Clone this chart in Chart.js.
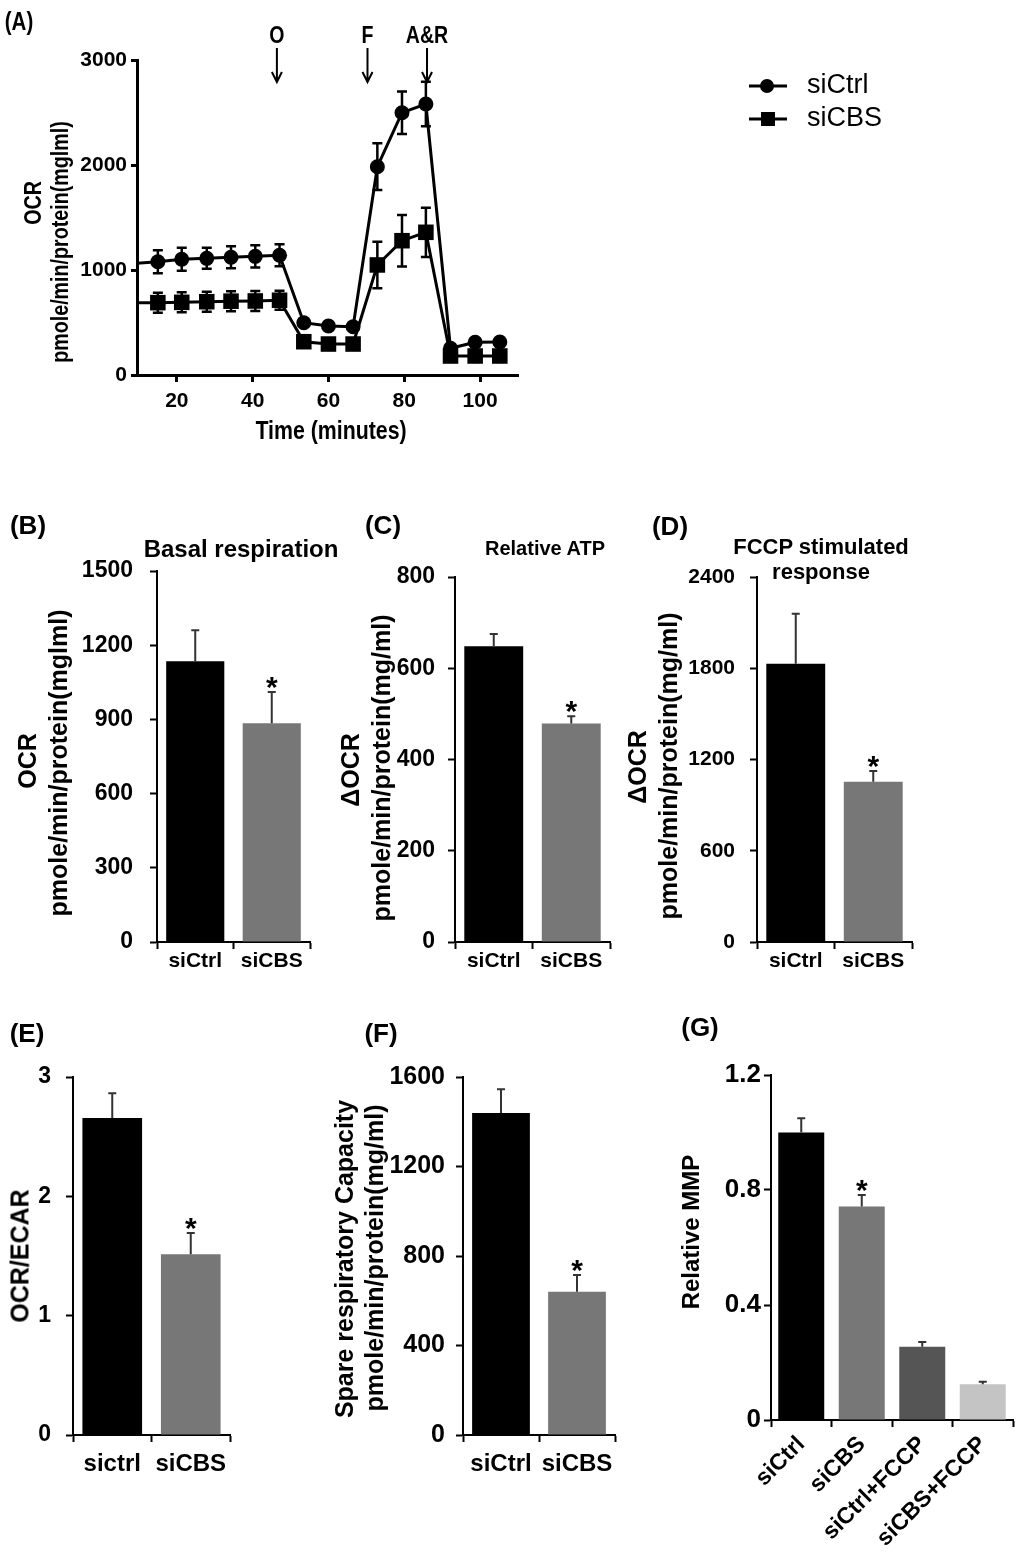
<!DOCTYPE html>
<html>
<head>
<meta charset="utf-8">
<script src="https://cdn.jsdelivr.net/npm/chart.js@4.4.1/dist/chart.umd.min.js"></script>
<style>
  html, body { margin: 0; padding: 0; background: #fff; }
  #page { position: relative; width: 1021px; height: 1568px; overflow: hidden;
          font-family: "Liberation Sans", Arial, sans-serif; font-weight: bold; color: #000; }
  canvas { position: absolute; }
  .t { position: absolute; white-space: nowrap; line-height: 1; transform: translate(-50%, -50%); }
  .v { transform: translate(-50%, -50%) rotate(-90deg); }
  /* panel A uses a condensed face in the original */
  .n  { transform: translate(-50%, -50%) scaleX(0.82); }
  .vn { transform: translate(-50%, -50%) rotate(-90deg) scaleX(0.82); }
</style>
</head>
<body>
<div id="page">
  <canvas id="cA" style="left:0;top:0" width="1021" height="470"></canvas>
  <canvas id="cB" style="left:0;top:490px" width="340" height="510"></canvas>
  <canvas id="cC" style="left:340px;top:490px" width="300" height="510"></canvas>
  <canvas id="cD" style="left:640px;top:490px" width="381" height="510"></canvas>
  <canvas id="cE" style="left:0;top:1000px" width="320" height="568"></canvas>
  <canvas id="cF" style="left:320px;top:1000px" width="320" height="568"></canvas>
  <canvas id="cG" style="left:640px;top:1000px" width="381" height="568"></canvas>

  <!-- panel letters, titles, axis titles -->
  <div class="t n" style="left:19px;top:21px;font-size:25px">(A)</div>
  <div class="t vn" style="left:33px;top:203px;font-size:24px">OCR</div>
  <div class="t vn" style="left:60px;top:242px;font-size:24px">pmole/min/protein(mglml)</div>
  <div class="t n" style="left:331px;top:430px;font-size:26px">Time (minutes)</div>

  <div class="t" style="left:28px;top:525px;font-size:26px">(B)</div>
  <div class="t" style="left:241px;top:549px;font-size:24px">Basal respiration</div>
  <div class="t v" style="left:27px;top:761px;font-size:25px">OCR</div>
  <div class="t v" style="left:58px;top:763px;font-size:25px">pmole/min/protein(mglml)</div>

  <div class="t" style="left:383px;top:525px;font-size:26px">(C)</div>
  <div class="t" style="left:545px;top:548px;font-size:20px">Relative ATP</div>
  <div class="t v" style="left:350px;top:770px;font-size:25px">ΔOCR</div>
  <div class="t v" style="left:381px;top:768px;font-size:25px">pmole/min/protein(mg/ml)</div>

  <div class="t" style="left:670px;top:526px;font-size:26px">(D)</div>
  <div class="t" style="left:821px;top:547px;font-size:22px">FCCP stimulated</div>
  <div class="t" style="left:821px;top:572px;font-size:22px">response</div>
  <div class="t v" style="left:637px;top:767px;font-size:25px">ΔOCR</div>
  <div class="t v" style="left:668px;top:766px;font-size:25px">pmole/min/protein(mg/ml)</div>

  <div class="t" style="left:27px;top:1033px;font-size:26px">(E)</div>
  <div class="t v" style="left:20px;top:1256px;font-size:25px">OCR/ECAR</div>

  <div class="t" style="left:381px;top:1033px;font-size:26px">(F)</div>
  <div class="t v" style="left:344px;top:1259px;font-size:25px">Spare respiratory Capacity</div>
  <div class="t v" style="left:374px;top:1258px;font-size:25px">pmole/min/protein(mg/ml)</div>

  <div class="t" style="left:700px;top:1027px;font-size:26px">(G)</div>
  <div class="t v" style="left:691px;top:1232px;font-size:24px">Relative MMP</div>
</div>

<script>
// ── DATA ──
// (A) OCR trace (Seahorse run), time in minutes
const traceTimes  = [2, 15, 21.3, 27.9, 34.3, 40.7, 47.1, 53.5, 60, 66.5, 72.9, 79.4, 85.7, 92.2, 98.7, 105.2];
const ocrCtrl     = [1045, 1079, 1102, 1111, 1121, 1130, 1140, 498, 467, 460, 1984, 2498, 2581, 254, 312, 314];
const ocrCtrlErr  = [0, 110, 110, 100, 105, 105, 105, 25, 20, 20, 222, 203, 211, 20, 20, 20];
const ocrCbs      = [688, 689, 692, 698, 703, 705, 712, 317, 295, 295, 1048, 1279, 1359, 181, 181, 181];
const ocrCbsErr   = [0, 95, 95, 95, 95, 95, 90, 20, 15, 15, 222, 245, 235, 15, 15, 15];
const traceXTicks = [20, 40, 60, 80, 100];
const traceYTicks = [0, 1000, 2000, 3000];
const injectLabels = ['O', 'F', 'A&R'];
const injectTimes  = [46.4, 70.3, 86];

// (B)-(F) two-group bars
const groups     = ['siCtrl', 'siCBS'];
const groupsE    = ['sictrl', 'siCBS'];
const basalVals  = [1135, 884];
const basalErr   = [125, 127];
const basalTicks = [0, 300, 600, 900, 1200, 1500];
const atpVals    = [648, 479];
const atpErr     = [27, 16];
const atpTicks   = [0, 200, 400, 600, 800];
const fccpVals   = [1829, 1054];
const fccpErr    = [330, 70];
const fccpTicks  = [0, 600, 1200, 1800, 2400];
const ratioVals  = [2.657, 1.515];
const ratioErr   = [0.206, 0.177];
const ratioTicks = [0, 1, 2, 3];
const spareVals  = [1439, 640];
const spareErr   = [106, 75];
const spareTicks = [0, 400, 800, 1200, 1600];
const starsTwo   = [false, true];

// (G) membrane potential
const mmpGroups = ['siCtrl', 'siCBS', 'siCtrl+FCCP', 'siCBS+FCCP'];
const mmpVals   = [1.0, 0.743, 0.255, 0.124];
const mmpErr    = [0.05, 0.04, 0.016, 0.009];
const mmpTicks  = [0, 0.4, 0.8, 1.2];
const mmpStars  = [false, true, false, false];

// ── STYLE ──
const FONT = '"Liberation Sans", Arial, sans-serif';
const twoColors = ['#000000', '#777777'];
const mmpColors = ['#000000', '#777777', '#555555', '#c4c4c4'];

Chart.defaults.color = '#000';
Chart.defaults.animation = false;

// error bars + significance stars, drawn from the y scale
const errorBarPlugin = {
  id: 'errorBars',
  afterDatasetsDraw(chart, args, opts) {
    const ctx = chart.ctx;
    const y = chart.scales.y;
    chart.data.datasets.forEach((ds, di) => {
      if (!ds.errors) return;
      chart.getDatasetMeta(di).data.forEach((el, i) => {
        const raw = ds.data[i];
        const v = typeof raw === 'object' ? raw.y : raw;
        const err = ds.errors[i];
        const top = y.getPixelForValue(v + err);
        ctx.save();
        if (err) {
          const bot = opts.both ? y.getPixelForValue(v - err) : el.y;
          ctx.strokeStyle = opts.color;
          ctx.lineWidth = opts.width;
          ctx.beginPath();
          ctx.moveTo(el.x, bot); ctx.lineTo(el.x, top);
          ctx.moveTo(el.x - opts.cap, top); ctx.lineTo(el.x + opts.cap, top);
          if (opts.both) { ctx.moveTo(el.x - opts.cap, bot); ctx.lineTo(el.x + opts.cap, bot); }
          ctx.stroke();
        }
        if (opts.stars && opts.stars[i]) {
          ctx.fillStyle = '#000';
          ctx.font = 'bold 30px ' + FONT;
          ctx.textAlign = 'center';
          ctx.textBaseline = 'alphabetic';
          ctx.fillText('*', el.x, top + 5);
        }
        ctx.restore();
      });
    });
  }
};

// injection arrows and legend for the trace
const tracePlugin = {
  id: 'traceMarks',
  afterDraw(chart) {
    const { ctx, chartArea } = chart;
    const x = chart.scales.x;
    ctx.save();
    ctx.strokeStyle = '#000';
    ctx.fillStyle = '#000';
    ctx.lineWidth = 2;
    ctx.textBaseline = 'middle';
    injectTimes.forEach((t, i) => {
      const px = x.getPixelForValue(t);
      const y0 = chartArea.top - 12, y1 = chartArea.top + 22;
      ctx.beginPath();
      ctx.moveTo(px, y0); ctx.lineTo(px, y1);
      ctx.moveTo(px - 5, y1 - 10); ctx.lineTo(px, y1); ctx.lineTo(px + 5, y1 - 10);
      ctx.stroke();
      // condensed label
      ctx.save();
      ctx.translate(px, chartArea.top - 23);
      ctx.scale(0.85, 1);
      ctx.font = 'bold 23px ' + FONT;
      ctx.textAlign = 'center';
      ctx.fillText(injectLabels[i], 0, 0);
      ctx.restore();
    });

    chart.data.datasets.forEach((ds, i) => {
      const ly = 86 + i * 33;
      ctx.lineWidth = 3;
      ctx.beginPath(); ctx.moveTo(749, ly); ctx.lineTo(787, ly); ctx.stroke();
      if (ds.pointStyle === 'rect') ctx.fillRect(761, ly - 7, 14, 14);
      else { ctx.beginPath(); ctx.arc(767, ly, 7, 0, Math.PI * 2); ctx.fill(); }
      ctx.font = '27px ' + FONT;
      ctx.textAlign = 'left';
      ctx.fillText(ds.label, 807, ly);
    });
    ctx.restore();
  }
};

function tickFont(size) {
  return { family: FONT, size: size, weight: 'bold' };
}

// ── (A) OCR trace ──
new Chart(document.getElementById('cA'), {
  type: 'line',
  data: {
    datasets: [
      {
        label: 'siCtrl',
        data: traceTimes.map((t, i) => ({ x: t, y: ocrCtrl[i] })),
        errors: ocrCtrlErr,
        borderColor: '#000', backgroundColor: '#000', borderWidth: 3,
        pointStyle: 'circle', pointRadius: traceTimes.map((t, i) => i === 0 ? 0 : 7.5),
        pointBorderWidth: 0, tension: 0,
      },
      {
        label: 'siCBS',
        data: traceTimes.map((t, i) => ({ x: t, y: ocrCbs[i] })),
        errors: ocrCbsErr,
        borderColor: '#000', backgroundColor: '#000', borderWidth: 3,
        pointStyle: 'rect', pointRadius: traceTimes.map((t, i) => i === 0 ? 0 : 11),
        pointBorderWidth: 0, tension: 0,
      }
    ]
  },
  options: {
    responsive: false, animation: false,
    layout: { padding: { top: 60, right: 503, left: 0, bottom: 0 } },
    plugins: {
      legend: { display: false }, tooltip: { enabled: false },
      errorBars: { both: true, cap: 5, width: 2.5, color: '#000' }
    },
    scales: {
      x: {
        type: 'linear', min: 9.5, max: 110,
        afterBuildTicks: s => { s.ticks = traceXTicks.map(v => ({ value: v })); },
        ticks: { padding: 7, font: tickFont(21), callback: v => String(v) },
        grid: { drawOnChartArea: false, tickLength: 7, tickWidth: 3, tickColor: '#000' },
        border: { color: '#000', width: 3 },
        afterFit: s => { s.height = 95; }
      },
      y: {
        min: 0, max: 3000,
        afterBuildTicks: s => { s.ticks = traceYTicks.map(v => ({ value: v })); },
        ticks: { padding: 4, font: tickFont(21), callback: v => String(v) },
        grid: { drawOnChartArea: false, tickLength: 6, tickWidth: 3, tickColor: '#000' },
        border: { color: '#000', width: 3 },
        afterFit: s => { s.width = 137; }
      }
    }
  },
  plugins: [errorBarPlugin, tracePlugin]
});

// ── (B)-(G) bar panels ──
function barChart(id, p) {
  return new Chart(document.getElementById(id), {
    type: 'bar',
    data: {
      labels: p.labels,
      datasets: [{
        data: p.values, errors: p.errors,
        backgroundColor: p.colors, borderWidth: 0,
        barPercentage: 0.76, categoryPercentage: 1,
      }]
    },
    options: {
      responsive: false, animation: false,
      layout: { padding: { top: p.top, right: p.right, left: 0, bottom: 0 } },
      plugins: {
        legend: { display: false }, tooltip: { enabled: false },
        errorBars: { both: false, cap: 4, width: 2, color: '#333', stars: p.stars }
      },
      scales: {
        x: {
          ticks: { padding: p.xPad, font: tickFont(p.xFont), autoSkip: false,
                   maxRotation: p.rot || 0, minRotation: p.rot || 0 },
          grid: { drawOnChartArea: false, tickLength: 7, tickWidth: 2, tickColor: '#000' },
          border: { color: '#000', width: 2 },
          afterFit: s => { s.height = p.xh; }
        },
        y: {
          min: p.ticks[0], max: p.ticks[p.ticks.length - 1],
          afterBuildTicks: s => { s.ticks = p.ticks.map(v => ({ value: v })); },
          ticks: { padding: p.yPad, font: tickFont(p.yFont), callback: v => String(v) },
          grid: { drawOnChartArea: false, tickLength: 7, tickWidth: 2, tickColor: '#000' },
          border: { color: '#000', width: 2 },
          afterFit: s => { s.width = p.yw; }
        }
      }
    },
    plugins: [errorBarPlugin]
  });
}

barChart('cB', { labels: groups, values: basalVals, errors: basalErr, ticks: basalTicks, stars: starsTwo,
  colors: twoColors, top: 81, right: 30, yw: 157, xh: 58, xPad: 0, xFont: 21, yPad: 17, yFont: 23 });
barChart('cC', { labels: groups, values: atpVals, errors: atpErr, ticks: atpTicks, stars: starsTwo,
  colors: twoColors, top: 87, right: 30, yw: 115, xh: 58, xPad: 0, xFont: 21, yPad: 13, yFont: 23 });
barChart('cD', { labels: groups, values: fccpVals, errors: fccpErr, ticks: fccpTicks, stars: starsTwo,
  colors: twoColors, top: 87, right: 109, yw: 117, xh: 58, xPad: 0, xFont: 21, yPad: 15, yFont: 21 });
barChart('cE', { labels: groupsE, values: ratioVals, errors: ratioErr, ticks: ratioTicks, stars: starsTwo,
  colors: twoColors, top: 77, right: 90, yw: 73, xh: 133, xPad: 8, xFont: 24, yPad: 15, yFont: 23 });
barChart('cF', { labels: groups, values: spareVals, errors: spareErr, ticks: spareTicks, stars: starsTwo,
  colors: twoColors, top: 77, right: 25, yw: 143, xh: 133, xPad: 8, xFont: 24, yPad: 11, yFont: 25 });
barChart('cG', { labels: mmpGroups, values: mmpVals, errors: mmpErr, ticks: mmpTicks, stars: mmpStars,
  colors: mmpColors, top: 75, right: 8, yw: 131, xh: 148, xPad: 4, xFont: 23, yPad: 3, yFont: 26, rot: 45 });
</script>
</body>
</html>
